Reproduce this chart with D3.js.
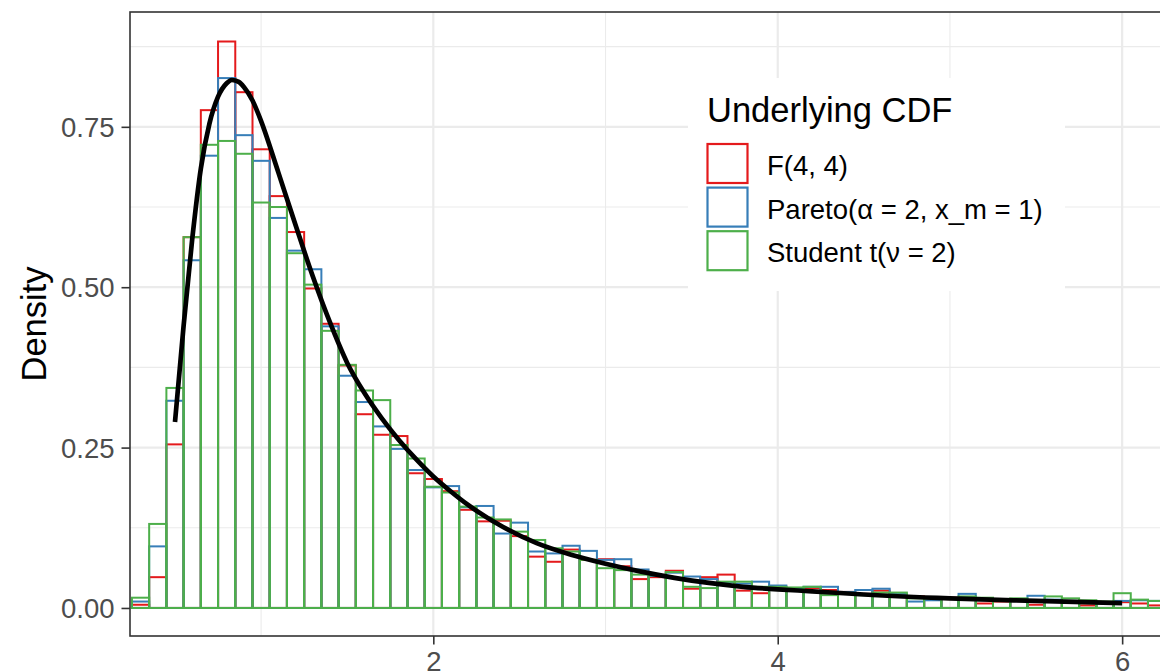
<!DOCTYPE html>
<html><head><meta charset="utf-8">
<script src="https://cdn.jsdelivr.net/npm/d3@7"></script>
<style>
body{margin:0;background:#fff}
svg{display:block}
text{font-family:"Liberation Sans",Arial,Helvetica,sans-serif}
</style>
</head><body>
<svg id="chart" width="1160" height="672"></svg>
<script>
// ---- data ----
const binCenters = [0.3,0.4,0.5,0.6,0.7,0.8,0.9,1.0,1.1,1.2,1.3,1.4,1.5,1.6,1.7,1.8,1.9,2.0,2.1,2.2,
  2.3,2.4,2.5,2.6,2.7,2.8,2.9,3.0,3.1,3.2,3.3,3.4,3.5,3.6,3.7,3.8,3.9,4.0,4.1,4.2,
  4.3,4.4,4.5,4.6,4.7,4.8,4.9,5.0,5.1,5.2,5.3,5.4,5.5,5.6,5.7,5.8,5.9,6.0,6.1,6.2];
const binWidth = 0.1;

const fDensity = [0.005,0.048,0.255,0.578,0.776,0.883,0.804,0.715,0.642,0.586,
  0.498,0.443,0.378,0.302,0.270,0.268,0.210,0.201,0.182,0.153,
  0.135,0.136,0.112,0.080,0.072,0.091,0.075,0.076,0.065,0.045,
  0.048,0.058,0.030,0.048,0.052,0.027,0.023,0.033,0.030,0.031,
  0.028,0.025,0.022,0.027,0.020,0.018,0.017,0.016,0.015,0.007,
  0.010,0.012,0.005,0.011,0.010,0.004,0.008,0.009,0.007,0.004];
const paretoDensity = [0.010,0.096,0.323,0.542,0.705,0.826,0.737,0.697,0.608,0.557,
  0.528,0.439,0.362,0.321,0.283,0.248,0.215,0.188,0.190,0.157,
  0.159,0.116,0.133,0.088,0.085,0.097,0.089,0.075,0.076,0.060,
  0.050,0.055,0.049,0.045,0.040,0.038,0.041,0.035,0.030,0.033,
  0.033,0.025,0.028,0.030,0.022,0.010,0.012,0.014,0.022,0.012,
  0.013,0.012,0.019,0.013,0.011,0.010,0.007,0.011,0.012,0.011];
const studentDensity = [0.016,0.131,0.343,0.578,0.722,0.728,0.708,0.632,0.625,0.553,
  0.504,0.432,0.379,0.339,0.324,0.254,0.233,0.189,0.180,0.158,
  0.141,0.138,0.119,0.106,0.093,0.088,0.075,0.062,0.059,0.052,
  0.051,0.056,0.033,0.031,0.041,0.041,0.033,0.033,0.032,0.033,
  0.020,0.022,0.020,0.024,0.024,0.015,0.015,0.014,0.018,0.016,
  0.014,0.015,0.012,0.018,0.015,0.012,0.010,0.023,0.013,0.011];

const curveX = [0.50,0.55,0.60,0.65,0.70,0.75,0.80,0.83,0.87,0.90,0.95,1.00,1.10,1.20,1.30,1.40,1.50,1.60,1.70,1.80,
  1.90,2.00,2.10,2.20,2.40,2.60,2.80,3.00,3.20,3.40,3.60,3.80,4.00,4.20,4.50,5.00,5.50,6.00];
const curveY = [0.290,0.440,0.575,0.685,0.755,0.797,0.818,0.823,0.820,0.812,0.791,0.759,0.679,0.597,0.517,0.445,0.382,0.335,0.296,0.262,
  0.232,0.205,0.182,0.161,0.127,0.101,0.083,0.069,0.057,0.047,0.039,0.033,0.029,0.026,0.021,0.015,0.011,0.0075];

const seriesNames = ["F(4, 4)", "Pareto(\u03b1 = 2, x_m = 1)", "Student t(\u03bd = 2)"];
const seriesColors = ["#E41A1C", "#377EB8", "#4DAF4A"];
const legendTitle = "Underlying CDF";
const xTicks = [2, 4, 6];
const xMinor = [1, 3, 5];
const yTicks = [0, 0.25, 0.5, 0.75];
const yTickLabels = ["0.00", "0.25", "0.50", "0.75"];
const yMinor = [0.125, 0.375, 0.625, 0.875];
const yTitle = "Density";

// ---- layout ----
const svg = d3.select("#chart");
const P = {left: 130, right: 1190, top: 12, bottom: 636};
const x = d3.scaleLinear().domain([0.2387, 6.394]).range([P.left, P.right]);
const y = d3.scaleLinear().domain([-0.0437, 0.929]).range([P.bottom, P.top]);

svg.append("defs").append("clipPath").attr("id","pclip")
  .append("rect").attr("x",P.left).attr("y",P.top).attr("width",P.right-P.left).attr("height",P.bottom-P.top);

const panel = svg.append("g").attr("clip-path","url(#pclip)");
panel.append("rect").attr("x",P.left).attr("y",P.top).attr("width",P.right-P.left).attr("height",P.bottom-P.top).attr("fill","#fff");

// grid
panel.selectAll(".ymin").data(yMinor).join("line")
  .attr("x1",P.left).attr("x2",P.right).attr("y1",d=>y(d)).attr("y2",d=>y(d))
  .attr("stroke","#EBEBEB").attr("stroke-width",1.1);
panel.selectAll(".xmin").data(xMinor).join("line")
  .attr("y1",P.top).attr("y2",P.bottom).attr("x1",d=>x(d)).attr("x2",d=>x(d))
  .attr("stroke","#EBEBEB").attr("stroke-width",1.1);
panel.selectAll(".ymaj").data(yTicks).join("line")
  .attr("x1",P.left).attr("x2",P.right).attr("y1",d=>y(d)).attr("y2",d=>y(d))
  .attr("stroke","#EBEBEB").attr("stroke-width",2.2);
panel.selectAll(".xmaj").data(xTicks).join("line")
  .attr("y1",P.top).attr("y2",P.bottom).attr("x1",d=>x(d)).attr("x2",d=>x(d))
  .attr("stroke","#EBEBEB").attr("stroke-width",2.2);

// histograms
const allSeries = [fDensity, paretoDensity, studentDensity];
allSeries.forEach((vals, si) => {
  panel.append("g").selectAll("rect").data(binCenters.map((c,i)=>({c, v: vals[i]}))).join("rect")
    .attr("x", d => x(d.c - binWidth/2))
    .attr("width", d => x(d.c + binWidth/2) - x(d.c - binWidth/2))
    .attr("y", d => y(d.v))
    .attr("height", d => y(0) - y(d.v))
    .attr("fill","none")
    .attr("stroke", seriesColors[si])
    .attr("stroke-width", 2);
});

// density curve
const line = d3.line().x(d=>x(d[0])).y(d=>y(d[1])).curve(d3.curveMonotoneX);
panel.append("path").datum(curveX.map((v,i)=>[v, curveY[i]]))
  .attr("d", line).attr("fill","none").attr("stroke","#000").attr("stroke-width",4.7);

// panel border
svg.append("rect").attr("x",P.left).attr("y",P.top).attr("width",P.right-P.left).attr("height",P.bottom-P.top)
  .attr("fill","none").attr("stroke","#333333").attr("stroke-width",1.6);

// axes
const yAxis = d3.axisLeft(y).tickValues(yTicks).tickFormat((d,i)=>yTickLabels[i]).tickSize(8.5).tickPadding(7);
const gy = svg.append("g").attr("transform",`translate(${P.left},0)`).call(yAxis);
gy.select(".domain").remove();
gy.selectAll(".tick line").attr("stroke","#333333").attr("stroke-width",1.6);
gy.selectAll(".tick text").attr("fill","#4D4D4D").style("font-size","27.5px").attr("dy","0.35em")
  .style("font-family",'"Liberation Sans",Arial,sans-serif');

const xAxis = d3.axisBottom(x).tickValues(xTicks).tickFormat(d3.format("d")).tickSize(8.5).tickPadding(7);
const gx = svg.append("g").attr("transform",`translate(0,${P.bottom})`).call(xAxis);
gx.select(".domain").remove();
gx.selectAll(".tick line").attr("stroke","#333333").attr("stroke-width",1.6);
gx.selectAll(".tick text").attr("fill","#4D4D4D").style("font-size","27.5px").attr("dy","0.71em")
  .style("font-family",'"Liberation Sans",Arial,sans-serif');

svg.append("text").attr("transform",`translate(46,${(P.top+P.bottom)/2}) rotate(-90)`)
  .attr("text-anchor","middle").style("font-size","34.5px").attr("fill","#000").text(yTitle);

// legend
const lg = svg.append("g");
lg.append("rect").attr("x",688).attr("y",78).attr("width",377).attr("height",213).attr("fill","#fff");
lg.append("text").attr("x",707).attr("y",122).style("font-size","34.5px").attr("fill","#000").text(legendTitle);
const keyTop = 142.5, keyStep = 43.6, keySize = 42;
seriesNames.forEach((name, i) => {
  const ky = keyTop + i*keyStep;
  lg.append("rect").attr("x",707.5).attr("y",ky+1.5).attr("width",40).attr("height",39)
    .attr("fill","none").attr("stroke",seriesColors[i]).attr("stroke-width",2.2);
  lg.append("text").attr("x",767).attr("y",ky + keySize/2 + 11.5)
    .style("font-size","27.5px").attr("fill","#000").text(name);
});
</script>
</body></html>
